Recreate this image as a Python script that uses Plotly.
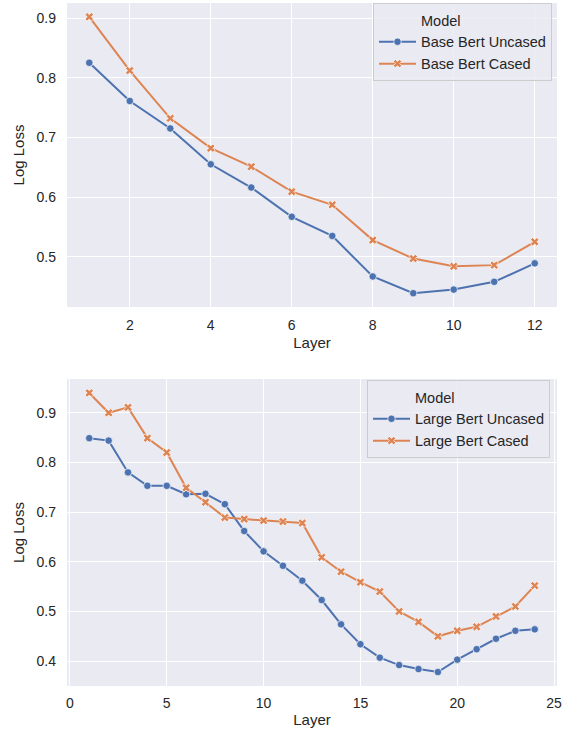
import plotly.graph_objects as go
from plotly.subplots import make_subplots

# ---- data ----
base_layers = list(range(1, 13))
base_uncased = [0.825, 0.761, 0.715, 0.655, 0.616, 0.567, 0.535, 0.467, 0.439, 0.445, 0.458, 0.489]
base_cased = [0.902, 0.812, 0.732, 0.682, 0.651, 0.609, 0.587, 0.528, 0.497, 0.484, 0.486, 0.525]

large_layers = list(range(1, 25))
large_uncased = [0.849, 0.844, 0.780, 0.753, 0.753, 0.736, 0.737, 0.716, 0.662, 0.621,
                 0.592, 0.562, 0.523, 0.474, 0.434, 0.407, 0.392, 0.384, 0.378, 0.403,
                 0.424, 0.445, 0.461, 0.464]
large_cased = [0.940, 0.900, 0.911, 0.849, 0.820, 0.749, 0.720, 0.689, 0.686, 0.683,
               0.681, 0.678, 0.609, 0.580, 0.559, 0.540, 0.500, 0.479, 0.450, 0.461,
               0.469, 0.490, 0.510, 0.552]

base_names = ["Base Bert Uncased", "Base Bert Cased"]
large_names = ["Large Bert Uncased", "Large Bert Cased"]
legend_title = "Model"
x_title = "Layer"
y_title = "Log Loss"

BLUE = "#4C72B0"
ORANGE = "#DD8452"
BG = "#EAEAF2"
TXT = "#262626"
FONT = "Liberation Sans, Arial, sans-serif"


def padded(vals, frac=0.05):
    lo, hi = min(vals), max(vals)
    m = (hi - lo) * frac
    return [lo - m, hi + m]


fig = make_subplots(rows=2, cols=1)


def add_panel(row, xs, ys1, ys2, names, legend):
    fig.add_trace(go.Scatter(x=[None], y=[None], mode="lines", name=legend_title,
                             line=dict(color="rgba(0,0,0,0)", width=0),
                             legend=legend, hoverinfo="skip"), row=row, col=1)
    fig.add_trace(go.Scatter(x=xs, y=ys1, mode="lines+markers", name=names[0],
                             line=dict(color=BLUE, width=2),
                             marker=dict(symbol="circle", size=7.5, color=BLUE,
                                         line=dict(color="white", width=0.7)),
                             legend=legend), row=row, col=1)
    fig.add_trace(go.Scatter(x=xs, y=ys2, mode="lines+markers", name=names[1],
                             line=dict(color=ORANGE, width=2),
                             marker=dict(symbol="x", size=7.5, color=ORANGE,
                                         line=dict(color="white", width=0.7)),
                             legend=legend), row=row, col=1)


add_panel(1, base_layers, base_uncased, base_cased, base_names, "legend")
add_panel(2, large_layers, large_uncased, large_cased, large_names, "legend2")

axis_common = dict(showgrid=True, gridcolor="white", gridwidth=1.3, zeroline=False,
                   showline=False, ticks="", tickfont=dict(size=14, color=TXT, family=FONT),
                   title_font=dict(size=15, color=TXT, family=FONT))

fig.update_xaxes(**axis_common)
fig.update_yaxes(**axis_common)

legend_common = dict(xanchor="right", yanchor="top",
                     bgcolor="rgba(234,234,242,0.8)", bordercolor="#CCCCCC", borderwidth=1,
                     font=dict(size=14.5, color=TXT, family=FONT), tracegroupgap=0,
                     itemwidth=37)

fig.update_layout(
    xaxis=dict(domain=[0, 1], range=padded(base_layers), tick0=0, dtick=2,
               title=dict(text=x_title, standoff=5), ticklabelstandoff=8),
    yaxis=dict(domain=[0.5549, 1.0], range=padded(base_uncased + base_cased), tick0=0, dtick=0.1,
               title=dict(text=y_title, standoff=8), ticklabelstandoff=10),
    xaxis2=dict(domain=[0, 1], range=padded(large_layers), tick0=0, dtick=5,
                title=dict(text=x_title, standoff=4), ticklabelstandoff=7),
    yaxis2=dict(domain=[0, 0.4495], range=padded(large_uncased + large_cased), tick0=0, dtick=0.1,
                title=dict(text=y_title, standoff=8), ticklabelstandoff=10),
    width=569, height=731,
    margin=dict(l=67, r=12, t=3, b=45, autoexpand=False),
    paper_bgcolor="white", plot_bgcolor=BG,
    font=dict(family=FONT, color=TXT, size=14),
    legend=dict(x=0.9898, y=1.0, **legend_common),
    legend2=dict(x=0.9857, y=0.4480, **legend_common),
    showlegend=True,
)

fig.write_html("out.html", config={"displayModeBar": False},
               post_script="document.body.style.margin='0';document.body.style.padding='0';")
